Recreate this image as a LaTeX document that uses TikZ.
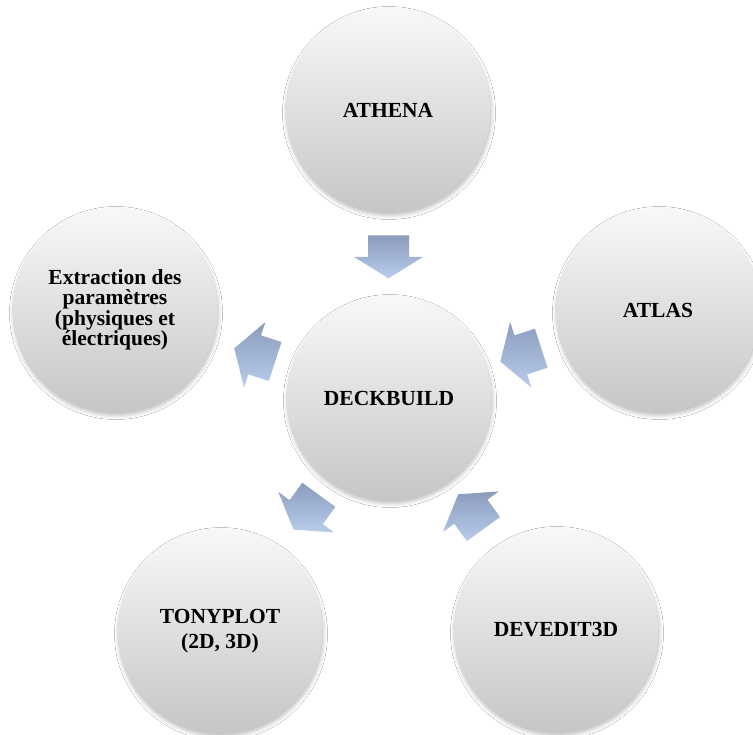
\documentclass[tikz,border=0pt]{standalone}
\usepackage{fontspec}
\setmainfont{Liberation Serif}
\usetikzlibrary{calc,shadows.blur}
\definecolor{cirtop}{HTML}{F8F8F8}
\definecolor{cirbot}{HTML}{C6C6C6}
\definecolor{arrtail}{HTML}{8B9CBC}
\definecolor{arrtip}{HTML}{B9CCEC}
\tikzset{
  bubble/.style={circle, minimum size=205pt, inner sep=0pt, align=center,
    top color=cirtop, bottom color=cirbot, draw=none,
    font=\bfseries\fontsize{21.5}{25}\selectfont,
    blur shadow={shadow xshift=1pt, shadow yshift=-3pt, shadow blur radius=4pt, shadow opacity=25}},
  blockarrow/.pic={
    \path[top color=arrtail, bottom color=arrtip, draw=none]
      (-20.5,-21.5) -- (20.5,-21.5) -- (20.5,0) -- (34.5,0) -- (0,21.5)
      -- (-34.5,0) -- (-20.5,0) -- cycle;}
}
\begin{document}
\begin{tikzpicture}[x=1pt,y=-1pt]
\useasboundingbox[fill=white] (0,0) rectangle (753,735);
\node[bubble] (deck) at (389,398) {DECKBUILD};
\node[bubble] (athena) at (388,110) {ATHENA};
\node[bubble] (atlas) at (658,310) {ATLAS};
\node[bubble, font=\bfseries\fontsize{21.5}{20.5}\selectfont] (extr) at (115,310) {Extraction des\\paramètres\\(physiques et\\électriques)};
\node[bubble] (tony) at (220,631) {TONYPLOT\\(2D, 3D)};
\node[bubble] (dev) at (556,630) {DEVEDIT3D};
\coordinate (a1) at ($(deck)!0.49!(athena)$);
\coordinate (a2) at ($(deck)!0.49!(atlas)$);
\coordinate (a3) at ($(deck)!0.49!(dev)$);
\coordinate (a4) at ($(deck)!0.49!(tony)$);
\coordinate (a5) at ($(deck)!0.49!(extr)$);
\pic[rotate=0] at (a1) {blockarrow};
\pic[rotate=-72] at (a2) {blockarrow};
\pic[rotate=-144] at (a3) {blockarrow};
\pic[rotate=-36] at (a4) {blockarrow};
\pic[rotate=-108] at (a5) {blockarrow};
\end{tikzpicture}
\end{document}
